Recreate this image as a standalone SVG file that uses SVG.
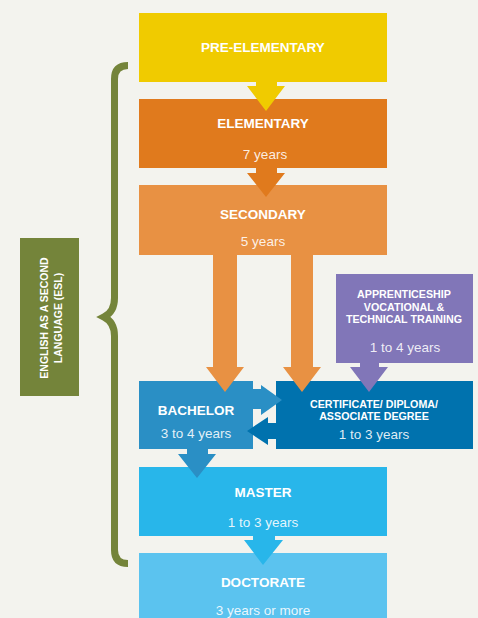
<svg xmlns="http://www.w3.org/2000/svg" width="478" height="618" viewBox="0 0 478 618">
<style>
.t{font-family:"Liberation Sans",Arial,sans-serif;fill:#fff;text-anchor:middle}
.b{font-weight:bold;font-size:13.5px}
.s{font-weight:bold;font-size:10.7px}
.y{font-size:13.5px;fill-opacity:0.88}
</style>
<rect width="478" height="618" fill="#f3f3ee"/>
<g id="esl">
<path d="M128 65.5 Q114.5 65.5 114.5 79 V298 C114.5 309 110 314 104 317 C110 320 114.5 325 114.5 336 V550 Q114.5 563.5 128 563.5" fill="none" stroke="#74843a" stroke-width="7"/>
<rect x="20" y="238" width="59" height="158" fill="#74843a"/>
<text class="t" font-weight="bold" font-size="10.5" transform="translate(48 318) rotate(-90)">ENGLISH AS A SECOND</text>
<text class="t" font-weight="bold" font-size="10.5" transform="translate(61.5 318) rotate(-90)">LANGUAGE (ESL)</text>
</g>
<g id="pre-elementary">
<rect x="139" y="13" width="248" height="69" fill="#f0cb00"/>
<text class="t b" x="263" y="52">PRE-ELEMENTARY</text>
</g>
<g id="elementary">
<rect x="139" y="99" width="248" height="69" fill="#e07a1d"/>
<text class="t b" x="263" y="128">ELEMENTARY</text>
<text class="t y" x="265" y="159">7 years</text>
</g>
<g id="secondary">
<rect x="139" y="185" width="248" height="70" fill="#e89143"/>
<text class="t b" x="263" y="219">SECONDARY</text>
<text class="t y" x="263" y="246">5 years</text>
</g>
<g id="apprenticeship">
<rect x="336" y="274" width="137" height="89" fill="#8176b8"/>
<text class="t s" x="404" y="298">APPRENTICESHIP</text>
<text class="t s" x="404" y="310.5">VOCATIONAL &amp;</text>
<text class="t s" x="404" y="322.5">TECHNICAL TRAINING</text>
<text class="t y" x="405" y="352">1 to 4 years</text>
</g>
<g id="bachelor">
<rect x="139" y="381" width="114" height="68" fill="#2a8fc5"/>
<text class="t b" x="196" y="414.5">BACHELOR</text>
<text class="t y" x="196" y="438">3 to 4 years</text>
</g>
<g id="certificate">
<rect x="276" y="381" width="197" height="68" fill="#0072ae"/>
<text class="t s" x="374" y="408">CERTIFICATE/ DIPLOMA/</text>
<text class="t s" x="374" y="420">ASSOCIATE DEGREE</text>
<text class="t y" x="374" y="439">1 to 3 years</text>
</g>
<g id="master">
<rect x="139" y="467" width="248" height="69" fill="#28b6ea"/>
<text class="t b" x="263" y="497">MASTER</text>
<text class="t y" x="263" y="527">1 to 3 years</text>
</g>
<g id="doctorate">
<rect x="139" y="553" width="248" height="65" fill="#5bc3ef"/>
<text class="t b" x="263" y="587">DOCTORATE</text>
<text class="t y" x="263" y="615">3 years or more</text>
</g>
<g id="connectors">
<polygon points="256,82 277,82 277,86 285,86 266,111 247,86 256,86" fill="#f0cb00"/>
<polygon points="256,168 277,168 277,173 285,173 266,197 247,173 256,173" fill="#e07a1d"/>
<polygon points="213,255 237,255 237,367 244,367 225,392 206,367 213,367" fill="#e89143"/>
<polygon points="291,255 313,255 313,367 321,367 302,392 283,367 291,367" fill="#e89143"/>
<polygon points="360,363 379,363 379,367 388,367 369,392 350,367 360,367" fill="#8176b8"/>
<polygon points="253,389 261,389 261,385 282,400 261,415 261,409 253,409" fill="#2a8fc5"/>
<polygon points="276,423 268,423 268,417 247,431 268,445 268,439 276,439" fill="#0072ae"/>
<polygon points="187,449 208,449 208,454 216,454 197,478 178,454 187,454" fill="#2a8fc5"/>
<polygon points="253,536 275,536 275,540 283,540 263,565 244,540 253,540" fill="#28b6ea"/>
</g>
</svg>
